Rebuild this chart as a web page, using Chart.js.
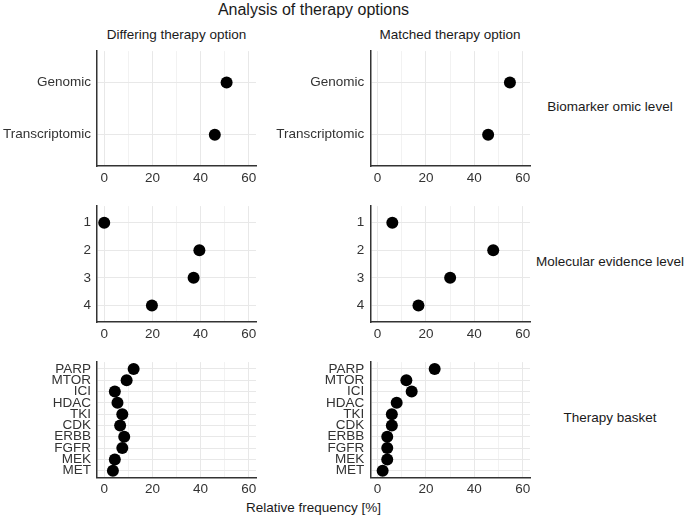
<!DOCTYPE html>
<html><head><meta charset="utf-8">
<script src="https://cdn.jsdelivr.net/npm/chart.js@4.4.0/dist/chart.umd.min.js"></script>
<style>
html,body{margin:0;padding:0;background:#fff;}
body{width:685px;height:520px;position:relative;overflow:hidden;font-family:"Liberation Sans",Arial,sans-serif;}
.box{position:absolute;}
.lbl{position:absolute;transform:translate(-50%,-50%);white-space:nowrap;font-size:13.5px;color:#1a1a1a;line-height:1;}
.title{font-size:16px;}
</style></head><body>
<div class="lbl title" style="left:313.5px;top:10px;">Analysis of therapy options</div>
<div class="lbl" style="left:176.5px;top:35px;">Differing therapy option</div>
<div class="lbl" style="left:450px;top:35px;">Matched therapy option</div>
<div class="lbl" style="left:610px;top:106.5px;">Biomarker omic level</div>
<div class="lbl" style="left:610px;top:262px;">Molecular evidence level</div>
<div class="lbl" style="left:610px;top:418px;">Therapy basket</div>
<div class="lbl" style="left:313.5px;top:508px;">Relative frequency [%]</div>
<script>
const omicLevels = ['Genomic', 'Transcriptomic'];
const omicDiffering = [50.8, 45.9];
const omicMatched = [54.7, 45.7];

const evidenceLevels = ['1', '2', '3', '4'];
const evidenceDiffering = [0.0, 39.5, 37.1, 19.8];
const evidenceMatched = [6.1, 47.8, 30.0, 16.9];

const basketCategories = ['PARP', 'MTOR', 'ICI', 'HDAC', 'TKI', 'CDK', 'ERBB', 'FGFR', 'MEK', 'MET'];
const basketDiffering = [12.2, 9.3, 4.4, 5.5, 7.5, 6.6, 8.3, 7.5, 4.4, 3.6];
const basketMatched = [23.6, 11.9, 14.1, 7.9, 5.9, 5.9, 4.0, 4.0, 4.0, 2.1];

const xGridValues = [0, 10, 20, 30, 40, 50, 60];
const xLabelValues = [0, 20, 40, 60];

const FONT = '"Liberation Sans", Arial, sans-serif';
const cols = [
  {left: 97, right: 256, canvasLeft: 0},
  {left: 370.3, right: 530, canvasLeft: 268}
];
const rows = [
  {top: 47, bottom: 166},
  {top: 202, bottom: 322},
  {top: 358, bottom: 477.5}
];

const panels = [
  [omicLevels, omicDiffering, 0, 0],
  [omicLevels, omicMatched, 0, 1],
  [evidenceLevels, evidenceDiffering, 1, 0],
  [evidenceLevels, evidenceMatched, 1, 1],
  [basketCategories, basketDiffering, 2, 0],
  [basketCategories, basketMatched, 2, 1]
];

panels.forEach(([cats, vals, r, c]) => {
  const col = cols[c], row = rows[r];
  const padTop = 10, padRight = 10;
  const h = row.bottom - row.top;
  const cw = Math.round(col.right - col.canvasLeft + padRight);
  const ch = Math.round(padTop + h + 28);
  const xh = ch - padTop - h;
  const yw = col.left - col.canvasLeft;
  const div = document.createElement('div');
  div.className = 'box';
  div.style.left = col.canvasLeft + 'px';
  div.style.top = (row.top - padTop) + 'px';
  div.style.width = cw + 'px';
  div.style.height = ch + 'px';
  const cv = document.createElement('canvas');
  cv.width = cw; cv.height = ch;
  cv.style.width = cw + 'px'; cv.style.height = ch + 'px';
  div.appendChild(cv);
  document.body.appendChild(div);
  new Chart(cv, {
    type: 'scatter',
    data: {
      datasets: [{
        data: vals.map((v, i) => ({x: v, y: i})),
        pointRadius: 6,
        pointHoverRadius: 6,
        pointBackgroundColor: '#000',
        pointBorderWidth: 0,
        showLine: false,
        clip: false
      }]
    },
    options: {
      responsive: false,
      animation: false,
      events: [],
      layout: {padding: {top: padTop, right: padRight, left: 0, bottom: 0}},
      plugins: {legend: {display: false}, tooltip: {enabled: false}},
      scales: {
        x: {
          type: 'linear', min: -3, max: 63,
          afterBuildTicks: s => { s.ticks = xGridValues.map(v => ({value: v})); },
          afterFit: s => { s.height = xh; },
          ticks: {
            autoSkip: false, maxRotation: 0, padding: 4, color: '#333',
            font: {size: 13.5, family: FONT},
            callback: v => xLabelValues.includes(v) ? String(v) : ''
          },
          grid: {
            drawTicks: false,
            color: ctx => (ctx.tick && xLabelValues.includes(ctx.tick.value)) ? '#e8e8e8' : '#f2f2f2',
            lineWidth: 1
          },
          border: {display: true, color: '#333', width: 1.5}
        },
        y: {
          type: 'linear', reverse: true, min: -0.6, max: cats.length - 0.4,
          afterBuildTicks: s => { s.ticks = cats.map((_, i) => ({value: i})); },
          afterFit: s => { s.width = yw; },
          ticks: {
            autoSkip: false, padding: 6, color: '#333',
            font: {size: 13.5, family: FONT},
            callback: v => cats[v]
          },
          grid: {drawTicks: false, color: '#e8e8e8', lineWidth: 1},
          border: {display: true, color: '#333', width: 1.5}
        }
      }
    }
  });
});
</script>
</body></html>
